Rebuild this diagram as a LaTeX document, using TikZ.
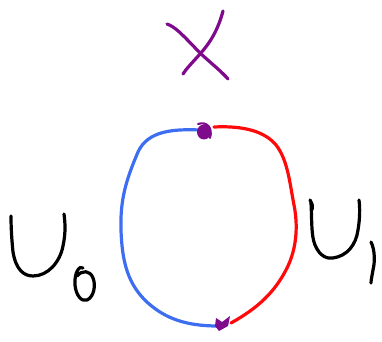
\documentclass[tikz,border=0pt]{standalone}
\definecolor{penblue}{HTML}{3D6EF2}
\definecolor{penred}{HTML}{FF0A0A}
\definecolor{penpurple}{HTML}{7E0A8C}
\tikzset{pen/.style={line width=2.4pt,line cap=round,line join=round}}
\begin{document}
\begin{tikzpicture}[x=0.75pt,y=-0.75pt]
\useasboundingbox (0,0) rectangle (382,342);
% X
\draw[pen,penpurple] (167,24) .. controls (175,27) and (180,32) .. (200,53) .. controls (212,64) and (222,72) .. (228,79);
\draw[pen,penpurple] (223,11) .. controls (218,30) and (210,43) .. (200,54) .. controls (192,63) and (186,69) .. (183,74);
% blue half
\draw[pen,penblue] (200,130) .. controls (175,129) and (148,130) .. (138,152)
  .. controls (126,180) and (120,200) .. (121,230)
  .. controls (122,262) and (128,285) .. (148,303)
  .. controls (165,318) and (185,326) .. (218,326);
% red half
\draw[pen,penred] (214,127) .. controls (235,126) and (262,128) .. (276,145)
  .. controls (288,160) and (290,185) .. (294,205)
  .. controls (298,225) and (297,248) .. (287,268)
  .. controls (275,292) and (258,308) .. (231,323);
% top blob
\fill[penpurple] (204,132) ellipse (7 and 7.5);
\draw[penpurple,line width=1.6pt,line cap=round] (198,124) .. controls (207,121) and (213,128) .. (210,138);
% bottom blob
\fill[penpurple] (216,318) -- (222,322) -- (230,316) -- (228,326) -- (219,331) -- (215,326) -- cycle;
% U_0
\draw[pen,black] (11,216) .. controls (11,230) and (12,242) .. (13,252) .. controls (16,270) and (24,276) .. (33,276) .. controls (48,276) and (60,262) .. (63,246) .. controls (66,232) and (65,222) .. (64,214);
\draw[pen,black] (83,268) .. controls (80,265) and (74,272) .. (75,285) .. controls (76,296) and (82,302) .. (87,300) .. controls (94,297) and (96,285) .. (93,278) .. controls (90,270) and (82,270) .. (77,276);
% U_1
\draw[pen,black] (310,200) .. controls (312,204) and (313,205) .. (312,210);
\draw[pen,black] (311,203) .. controls (312,220) and (311,235) .. (315,245) .. controls (320,257) and (328,259) .. (333,258) .. controls (347,256) and (356,245) .. (358,230) .. controls (360,218) and (360,208) .. (359,200);
\draw[pen,black] (371,242) .. controls (375,250) and (375,262) .. (373,270) .. controls (372,276) and (371,280) .. (371,283);
\end{tikzpicture}
\end{document}
